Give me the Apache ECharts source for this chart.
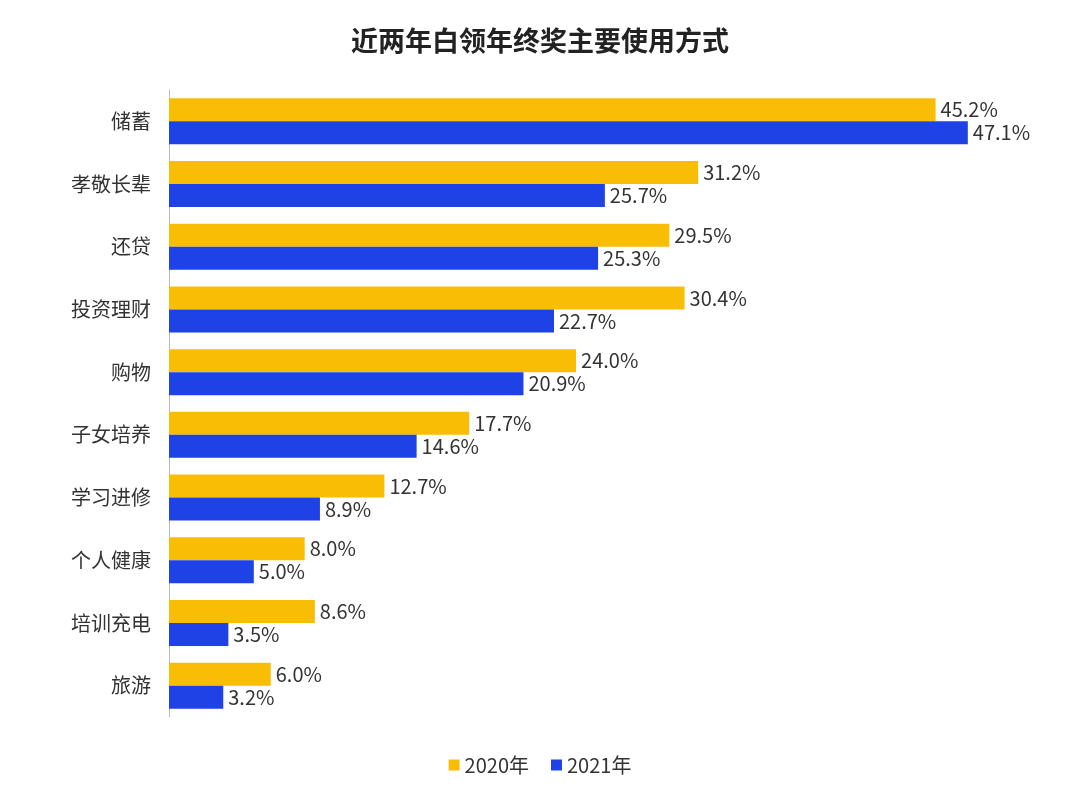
<!DOCTYPE html>
<html>
<head>
<meta charset="utf-8">
<script src="https://cdn.jsdelivr.net/npm/echarts@6/dist/echarts.min.js"></script>
<style>html,body{margin:0;padding:0;background:#fff}#c{width:1080px;height:800px}</style>
</head>
<body>
<div id="c"></div>
<script>
const categories = ['储蓄','孝敬长辈','还贷','投资理财','购物','子女培养','学习进修','个人健康','培训充电','旅游'];
const values2020 = [45.2, 31.2, 29.5, 30.4, 24.0, 17.7, 12.7, 8.0, 8.6, 6.0];
const values2021 = [47.1, 25.7, 25.3, 22.7, 20.9, 14.6, 8.9, 5.0, 3.5, 3.2];
const seriesNames = ['2020年','2021年'];

const font = '"Noto Sans CJK SC", "Noto Sans", sans-serif';
const chart = echarts.init(document.getElementById('c'));
const lbl = {
  show: true, position: 'right', distance: 5,
  color: '#333', fontSize: 20, fontFamily: font,
  formatter: p => p.value.toFixed(1) + '%'
};
chart.setOption({
  backgroundColor: '#ffffff',
  animation: false,
  title: {
    text: '近两年白领年终奖主要使用方式',
    left: 'center', top: 22,
    textStyle: { fontSize: 27, fontWeight: 'bold', color: '#222', fontFamily: font }
  },
  legend: {
    data: seriesNames,
    bottom: 20, left: 'center',
    icon: 'rect', itemWidth: 11, itemHeight: 11, itemGap: 22,
    textStyle: { fontSize: 20, color: '#333', fontFamily: font }
  },
  grid: { left: 169, right: 63, top: 90, bottom: 83, containLabel: false },
  xAxis: {
    type: 'value', min: 0, max: 50, show: false
  },
  yAxis: {
    type: 'category', data: categories, inverse: true,
    axisLine: { show: true, lineStyle: { color: '#bbb', width: 1 } },
    axisTick: { show: false },
    axisLabel: { color: '#333', fontSize: 20, fontFamily: font, margin: 18 }
  },
  series: [
    { name: seriesNames[0], type: 'bar', data: values2020, barWidth: 23, barGap: '0%',
      itemStyle: { color: '#FABD05' }, label: lbl },
    { name: seriesNames[1], type: 'bar', data: values2021, barWidth: 23, barGap: '0%',
      itemStyle: { color: '#1E42E6' }, label: lbl }
  ]
});
</script>
</body>
</html>
